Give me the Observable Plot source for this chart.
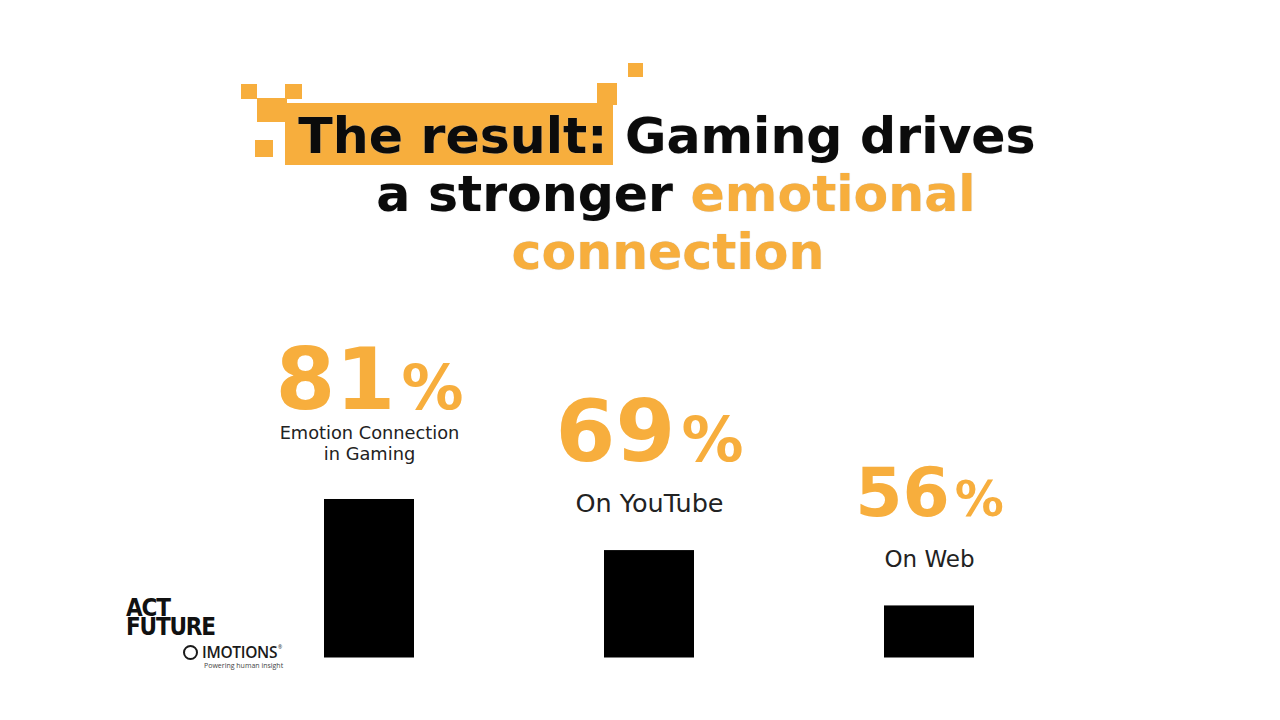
<!DOCTYPE html>
<html>
<head>
<meta charset="utf-8">
<script src="https://cdn.jsdelivr.net/npm/d3@7"></script>
<script src="https://cdn.jsdelivr.net/npm/@observablehq/plot@0.6"></script>
<style>
  html, body { margin: 0; padding: 0; background: #fff; }
  #stage { position: relative; width: 1280px; height: 720px; overflow: hidden; background: #fff;
           font-family: "DejaVu Sans", Verdana, sans-serif; }
  .sq { position: absolute; background: #F7AE3D; }
  .tl { position: absolute; left: 0; width: 1280px; text-align: center; font-weight: bold;
        font-size: 50.5px; line-height: 58px; white-space: pre; color: #0b0b0b;
        text-shadow: 0 0 1px #bbb; }
  .or { color: #F7AE3D; }
  #chart { position: absolute; left: 0; top: 0; }
  .logo1 { position: absolute; left: 126px; top: 599px; font-family: "Liberation Sans Narrow", "DejaVu Sans Condensed", sans-serif;
           font-weight: bold; font-size: 24px; line-height: 19px; letter-spacing: -1.2px; color: #111; }
  .ring { position: absolute; left: 183px; top: 645px; width: 11px; height: 11px; border: 2.5px solid #1a1a1a; border-radius: 50%; }
  .imo { position: absolute; left: 202px; top: 644px; font-family: "Open Sans", sans-serif; font-weight: 600;
         font-size: 15.5px; line-height: 16px; color: #1a1a1a; letter-spacing: -0.3px; }
  .reg { position: absolute; left: 278px; top: 645px; font-family: "Open Sans", sans-serif; font-size: 5px; line-height: 5px; color: #1a1a1a; }
  .pow { position: absolute; left: 204px; top: 662px; font-family: "Open Sans", sans-serif; font-size: 7px; line-height: 8px; color: #444; }
</style>
</head>
<body>
<div id="stage">
  <!-- decorative highlight -->
  <div class="sq" style="left:241px;top:84px;width:16px;height:15px"></div>
  <div class="sq" style="left:285px;top:84px;width:17px;height:15px"></div>
  <div class="sq" style="left:257px;top:98px;width:30px;height:24px"></div>
  <div class="sq" style="left:255px;top:140px;width:18px;height:17px"></div>
  <div class="sq" style="left:285px;top:103px;width:328px;height:62px"></div>
  <div class="sq" style="left:597px;top:83px;width:20px;height:22px"></div>
  <div class="sq" style="left:628px;top:63px;width:15px;height:14px"></div>

  <div class="tl" style="top:107px;left:27px">The result: Gaming drives</div>
  <div class="tl" style="top:165px;left:36px">a stronger <span class="or">emotional</span></div>
  <div class="tl or" style="top:223px;left:28px">connection</div>

  <div id="chart"></div>

  <div class="logo1">ACT<br>FUTURE</div>
  <div class="ring"></div>
  <div class="imo">IMOTIONS</div>
  <div class="reg">®</div>
  <div class="pow">Powering human insight</div>
</div>
<script>
// ---- data ----
const categories = ["Gaming", "YouTube", "Web"];
const values = [81, 69, 56];
const valueLabels = ["81%", "69%", "56%"];
const labels = ["Emotion Connection\nin Gaming", "On YouTube", "On Web"];

// ---- styles ----
const ORANGE = "#F7AE3D";
const numberSize = [86, 86, 68];
const labelSize = [17.8, 25.5, 23];
const yMin = 43.77;

const data = categories.map((c, i) => ({category: c, value: values[i], valueLabel: valueLabels[i], label: labels[i]}));

const plot = Plot.plot({
  width: 1280,
  height: 720,
  margin: 0,
  style: {background: "transparent", fontFamily: "DejaVu Sans, Verdana, sans-serif", overflow: "visible"},
  x: {type: "band", domain: categories, range: [132.5, 1164.5], padding: 0.679, axis: null},
  y: {domain: [yMin, 100], range: [657.5, 418.1], axis: null},
  marks: [
    Plot.barY(data, {x: "category", y1: yMin, y2: "value", fill: "#000"}),
    Plot.text(data, {x: "category", y: "value", text: "valueLabel", fontSize: (d, i) => numberSize[i],
      fontWeight: "bold", fill: ORANGE, lineAnchor: "bottom", dy: -90}),
    Plot.text(data, {x: "category", y: "value", text: "label", fontSize: (d, i) => labelSize[i],
      fill: "#222", lineAnchor: "bottom", dy: -39, lineHeight: 1.2})
  ]
});

// smaller "%" sign
const ns = "http://www.w3.org/2000/svg";
const groups = plot.querySelectorAll('g[aria-label="text"]');
if (groups.length) {
  groups[0].querySelectorAll("text").forEach(t => {
    const host = t.querySelector("tspan") || t;
    const s = host.textContent;
    const m = s.match(/^(\d+)(%)$/);
    if (!m) return;
    host.textContent = "";
    const a = document.createElementNS(ns, "tspan");
    a.textContent = m[1];
    const b = document.createElementNS(ns, "tspan");
    b.textContent = "%";
    b.setAttribute("font-size", "0.72em");
    b.setAttribute("dx", "0.1em");
    host.append(a, b);
  });
}
document.getElementById("chart").append(plot);
</script>
</body>
</html>
